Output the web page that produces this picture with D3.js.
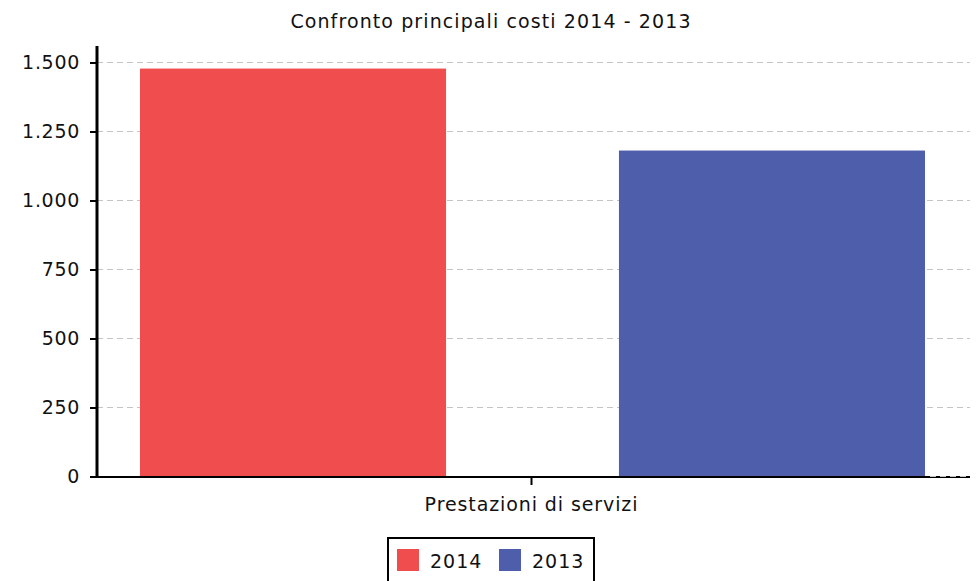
<!DOCTYPE html>
<html><head><meta charset="utf-8">
<script src="https://cdn.jsdelivr.net/npm/d3@7"></script>
<style>body{margin:0;background:#fff}svg{display:block}text{font-family:"DejaVu Sans",sans-serif}</style>
</head><body>
<svg id="c" width="980" height="581"></svg>
<script>
const categories = ["Prestazioni di servizi"];
const seriesNames = ["2014", "2013"];
const values2014 = [1478];
const values2013 = [1181];
const yTicks = [0, 250, 500, 750, 1000, 1250, 1500];
const colors = ["#EF4D4E", "#4F5EAA"];
const title = "Confronto principali costi 2014 - 2013";

const svg = d3.select("#c");
const y = d3.scaleLinear().domain([0, 1500]).range([476.5, 62.5]);
const x0 = d3.scaleBand().domain(categories).range([97, 966]).padding(0);
const x1 = d3.scaleBand().domain(seriesNames).range([43, 869 - 41]).paddingInner(0.361).paddingOuter(0);
const fmt = v => d3.format(",")(v).replace(/,/g, ".");

svg.append("text").attr("x", 491).attr("y", 28).attr("text-anchor", "middle")
  .attr("font-size", 19).attr("letter-spacing", 1.1).attr("fill", "#111").text(title);

// grid
svg.append("g").selectAll("line").data(yTicks).join("line")
  .attr("x1", 97).attr("x2", 970).attr("y1", d => y(d)).attr("y2", d => y(d))
  .attr("stroke", "#c4c4c4").attr("stroke-width", 1).attr("stroke-dasharray", "6,4");

// bars
const data = categories.map((c, i) => ({c, vals: [values2014[i], values2013[i]]}));
const g = svg.append("g");
data.forEach(d => {
  g.selectAll(null).data(d.vals).join("rect")
    .attr("x", (v, j) => x0(d.c) + x1(seriesNames[j]))
    .attr("width", x1.bandwidth())
    .attr("y", v => y(v)).attr("height", v => y(0) - y(v))
    .attr("fill", (v, j) => colors[j]);
});

// y axis
const ya = svg.append("g").attr("transform", "translate(97,0)")
  .call(d3.axisLeft(y).tickValues(yTicks).tickFormat(fmt).tickSize(7).tickPadding(10));
ya.select(".domain").remove();
ya.selectAll(".tick line").attr("stroke", "#000").attr("stroke-width", 2);
ya.selectAll("text").attr("font-size", 19).attr("letter-spacing", 0.7).attr("fill", "#111");
svg.append("line").attr("x1", 97).attr("x2", 97).attr("y1", 46).attr("y2", 478)
  .attr("stroke", "#000").attr("stroke-width", 3);

// x axis
svg.append("line").attr("x1", 90).attr("x2", 970).attr("y1", 477).attr("y2", 477)
  .attr("stroke", "#000").attr("stroke-width", 2);
svg.append("line").attr("x1", 930).attr("x2", 970).attr("y1", 476.5).attr("y2", 476.5)
  .attr("stroke", "#c4c4c4").attr("stroke-width", 1).attr("stroke-dasharray", "6,4");
const xa = svg.append("g").attr("transform", "translate(0,477)")
  .call(d3.axisBottom(x0).tickSize(8).tickPadding(13));
xa.select(".domain").remove();
xa.selectAll(".tick line").attr("stroke", "#000").attr("stroke-width", 2);
xa.selectAll("text").attr("font-size", 19).attr("letter-spacing", 0.9).attr("fill", "#111");

// legend
const lg = svg.append("g");
lg.append("rect").attr("x", 388).attr("y", 538).attr("width", 206).attr("height", 46)
  .attr("fill", "#fff").attr("stroke", "#000").attr("stroke-width", 2);
const items = lg.selectAll("g.it").data(seriesNames).join("g")
  .attr("transform", (d, i) => `translate(${397 + i * 102},549)`);
items.append("rect").attr("width", 22).attr("height", 22).attr("fill", (d, i) => colors[i]);
items.append("text").attr("x", 33).attr("y", 19).attr("font-size", 19).attr("letter-spacing", 1)
  .attr("fill", "#111").text(d => d);
</script>
</body></html>
